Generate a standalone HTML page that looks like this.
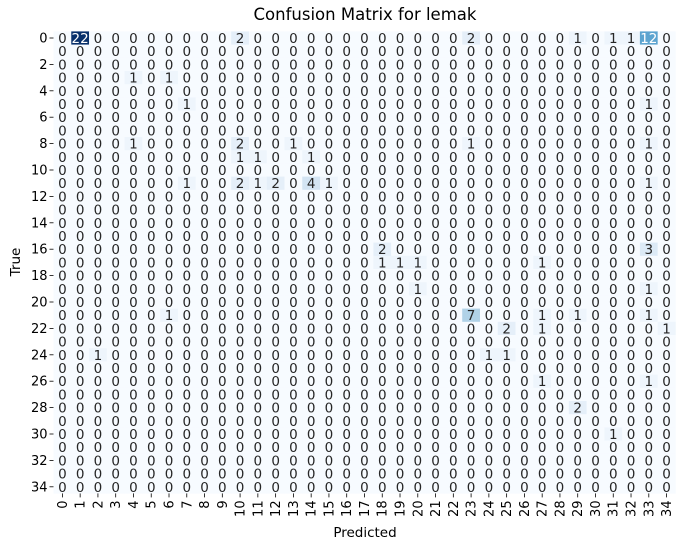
<!DOCTYPE html>
<html><head><meta charset="utf-8"><style>
body{margin:0;background:#fff;}
svg{display:block;font-family:"DejaVu Sans","Liberation Sans",sans-serif;}
</style></head><body>
<svg id="chart" width="683" height="551" viewBox="0 0 683 551">
<text x="365" y="20" text-anchor="middle" font-size="16.5" fill="#000">Confusion Matrix for lemak</text>
<text x="365" y="537" text-anchor="middle" font-size="13.5">Predicted</text>
<text x="20" y="262" text-anchor="middle" font-size="13.5" transform="rotate(-90 20 262)">True</text>
<g id="cells"></g><g id="ticks"></g>
</svg>
<script>
const classes = Array.from({length:35},(_,i)=>i);
const nonzeroRows = [0,0,0,0,0,0,0, 3,3, 5,5, 8,8,8,8,8, 9,9,9, 11,11,11,11,11,11,11, 16,16, 17,17,17,17, 19,19, 21,21,21,21,21, 22,22,22, 24,24,24, 26,26, 28, 30];
const nonzeroCols = [1,10,23,29,31,32,33, 4,6, 7,33, 4,10,13,23,33, 10,11,14, 7,10,11,12,14,15,33, 18,33, 18,19,20,27, 20,33, 6,23,27,29,33, 25,27,34, 2,24,25, 27,33, 29, 31];
const nonzeroVals = [22,2,2,1,1,1,12, 1,1, 1,1, 1,2,1,1,1, 1,1,1, 1,2,1,2,4,1,1, 2,3, 1,1,1,1, 1,1, 1,7,1,1,1, 2,1,1, 1,1,1, 1,1, 2, 1];

const X0=53.5, Y0=31.4, CW=17.77, CH=13.2, N=classes.length;
const xPos=i=>X0+i*CW, yPos=i=>Y0+i*CH;
const matrix=classes.map(()=>classes.map(()=>0));
nonzeroVals.forEach((v,k)=>{matrix[nonzeroRows[k]][nonzeroCols[k]]=v;});
const vmax=Math.max(...nonzeroVals);
const stops=[[247,251,255],[222,235,247],[198,219,239],[158,202,225],[107,174,214],[66,146,198],[33,113,181],[8,81,156],[8,48,107]];
function blues(t){t=Math.max(0,Math.min(1,t))*(stops.length-1);const i=Math.min(Math.floor(t),stops.length-2),f=t-i;
 return stops[i].map((a,j)=>Math.round(a+(stops[i+1][j]-a)*f));}
function relLum(c){const l=c.map(v=>{v/=255;return v<=0.03928?v/12.92:Math.pow((v+0.055)/1.055,2.4);});return 0.2126*l[0]+0.7152*l[1]+0.0722*l[2];}
const NS="http://www.w3.org/2000/svg";
const cg=document.getElementById('cells'), tg=document.getElementById('ticks');
for(let r=0;r<N;r++)for(let c=0;c<N;c++){
 const v=matrix[r][c], col=blues(v/vmax);
 const rect=document.createElementNS(NS,'rect');
 
 
 rect.setAttribute('x',xPos(c));rect.setAttribute('y',yPos(r));
 rect.setAttribute('width',CW+0.3);rect.setAttribute('height',CH+0.3);
 rect.setAttribute('fill','rgb('+col.join(',')+')');cg.appendChild(rect);
 const t=document.createElementNS(NS,'text');
 
 
 t.setAttribute('x',xPos(c)+CW/2);t.setAttribute('y',yPos(r)+CH/2+5);
 t.setAttribute('text-anchor','middle');t.setAttribute('font-size','13.5');
 t.setAttribute('fill',relLum(col)<0.408?'#fff':'#262626');t.textContent=v;cg.appendChild(t);
}
const yb=Y0+N*CH;
classes.forEach((k,i)=>{
 const xc=xPos(i)+CW/2;
 const tk=document.createElementNS(NS,'line');
 
 
 tk.setAttribute('x1',xc);tk.setAttribute('x2',xc);tk.setAttribute('y1',yb);tk.setAttribute('y2',yb+4);
 tk.setAttribute('stroke','#000');tk.setAttribute('stroke-width','0.8');tg.appendChild(tk);
 const lb=document.createElementNS(NS,'text');
 
 
 lb.setAttribute('x',xc+4.5);lb.setAttribute('y',yb+7);lb.setAttribute('font-size','13');
 lb.setAttribute('text-anchor','end');lb.setAttribute('transform','rotate(-90 '+(xc+4.5)+' '+(yb+7)+')');
 lb.textContent=k;tg.appendChild(lb);
 if(i%2===0){
  const yc=yPos(i)+CH/2;
  const yt=document.createElementNS(NS,'line');
  
  
  yt.setAttribute('x1',X0-4);yt.setAttribute('x2',X0);yt.setAttribute('y1',yc);yt.setAttribute('y2',yc);
  yt.setAttribute('stroke','#000');yt.setAttribute('stroke-width','0.8');tg.appendChild(yt);
  const yl=document.createElementNS(NS,'text');
  
  
  yl.setAttribute('x',X0-6);yl.setAttribute('y',yc+4.5);yl.setAttribute('font-size','13');
  yl.setAttribute('text-anchor','end');
  yl.textContent=k;tg.appendChild(yl);
 }
});
</script>
</body></html>
